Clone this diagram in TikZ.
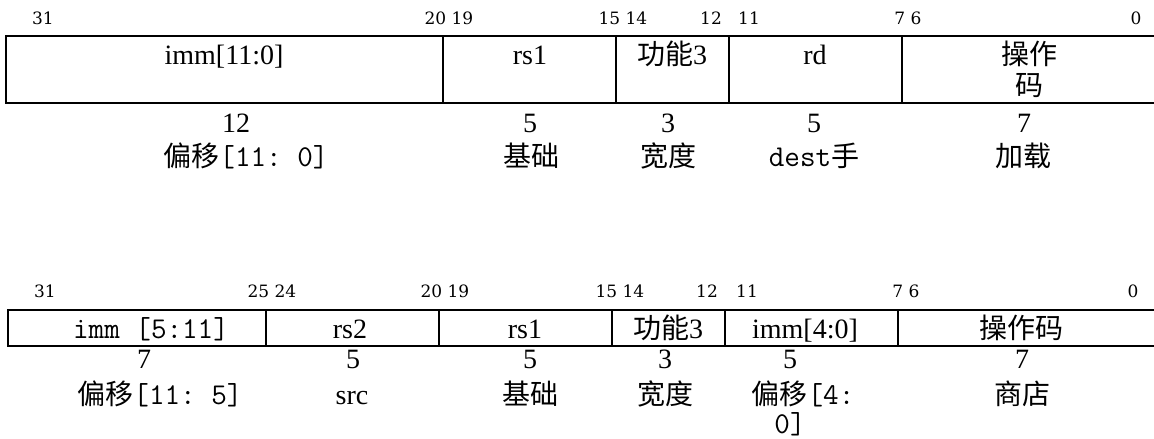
\documentclass[tikz,border=0pt]{standalone}
\usepackage{fontspec}
\setmainfont{Liberation Serif}
\setmonofont[Scale=1.08]{Latin Modern Mono}
\newfontfamily\cjk{Noto Sans CJK SC}
\newfontfamily\bitfont{DejaVu Serif}
\begin{document}
\begin{tikzpicture}[x=1pt,y=-1pt,
  tbl/.style={line width=2.6pt,draw=black},
  txt/.style={font=\fontsize{28}{32}\selectfont,inner sep=0pt,anchor=base},
  bit/.style={font=\bitfont\fontsize{17}{19}\selectfont,inner sep=0pt,anchor=base}]
\useasboundingbox (0,0) rectangle (1154,439);
\clip (0,0) rectangle (1154,439);
% ---------- top format ----------
\path[tbl] (6,36) rectangle (1162,103);
\foreach \xx in {443,616,729,902} \draw[tbl] (\xx,36) -- (\xx,103);
\node[bit] (ta31) at (43,24) {31};
\node[bit] (ta20) at (449,24) {20 19};
\node[bit] (ta15) at (623,24) {15 14};
\node[bit] (ta12) at (711,24) {12};
\node[bit] (ta11) at (749,24) {11};
\node[bit] (ta7) at (908,24) {7 6};
\node[bit] (ta0) at (1136,24) {0};
\node[txt] (timm) at (224,64) {imm[11:0]};
\node[txt] (trs1) at (530,64) {rs1};
\node[txt] (tf3) at (672,64) {{\cjk 功能}3};
\node[txt] (trd) at (815,64) {rd};
\node[txt] (top1) at (1029,64) {\cjk 操作};
\node[txt] (top2) at (1029,95) {\cjk 码};
\node[txt] (tn1) at (236,132) {12};
\node[txt] (tl1) at (246,166) {{\cjk 偏移}\texttt{[11: 0]}};
\node[txt] (tn2) at (530,132) {5};
\node[txt] (tl2) at (531,166) {\cjk 基础};
\node[txt] (tn3) at (668,132) {3};
\node[txt] (tl3) at (668,166) {\cjk 宽度};
\node[txt] (tn4) at (814,132) {5};
\node[txt] (tl4) at (814,166) {\texttt{dest}{\cjk 手}};
\node[txt] (tn5) at (1024,132) {7};
\node[txt] (tl5) at (1023,166) {\cjk 加载};
% ---------- bottom format ----------
\path[tbl] (8,310) rectangle (1162,346);
\foreach \xx in {266,439,612,725,898} \draw[tbl] (\xx,310) -- (\xx,346);
\node[bit] (ba31) at (45,297) {31};
\node[bit] (ba25) at (272,297) {25 24};
\node[bit] (ba20) at (445,297) {20 19};
\node[bit] (ba15) at (620,297) {15 14};
\node[bit] (ba12) at (707,297) {12};
\node[bit] (ba11) at (747,297) {11};
\node[bit] (ba7) at (906,297) {7 6};
\node[bit] (ba0) at (1133,297) {0};
\node[txt] (bimm) at (151,338) {\texttt{imm [5:11]}};
\node[txt] (brs2) at (350,338) {rs2};
\node[txt] (brs1) at (525,338) {rs1};
\node[txt] (bf3) at (668,338) {{\cjk 功能}3};
\node[txt] (bimm2) at (805,338) {imm[4:0]};
\node[txt] (bop) at (1021,338) {\cjk 操作码};
\node[txt] (bn1) at (144,368) {7};
\node[txt] (bl1) at (160,404) {{\cjk 偏移}\texttt{[11: 5]}};
\node[txt] (bn2) at (353,368) {5};
\node[txt] (bl2) at (352,404) {src};
\node[txt] (bn3) at (530,368) {5};
\node[txt] (bl3) at (530,404) {\cjk 基础};
\node[txt] (bn4) at (665,368) {3};
\node[txt] (bl4) at (665,404) {\cjk 宽度};
\node[txt] (bn5) at (790,368) {5};
\node[txt] (bl5) at (803,404) {{\cjk 偏移}\texttt{[4:}};
\node[txt] (bl5b) at (790,433) {\texttt{0]}};
\node[txt] (bn6) at (1022,368) {7};
\node[txt] (bl6) at (1022,404) {\cjk 商店};
\end{tikzpicture}
\end{document}
